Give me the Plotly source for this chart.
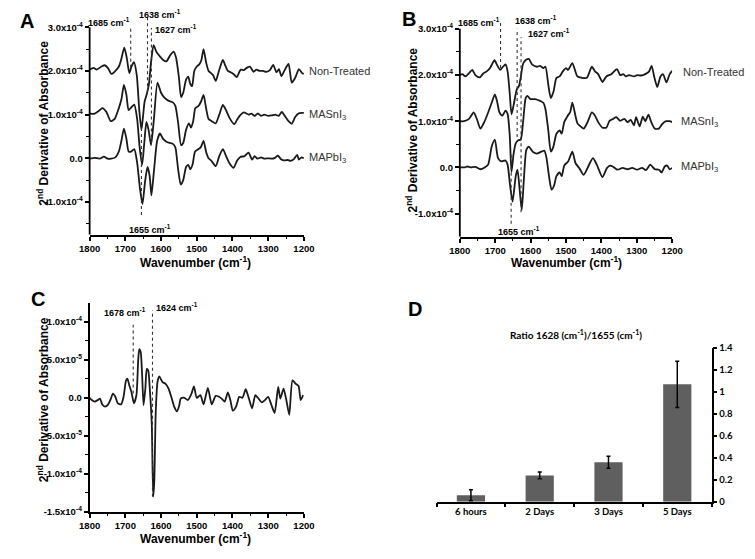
import numpy as np
import plotly.graph_objects as go

W, H = 755, 559
def px(x): return x / W
def py(y): return 1 - y / H

# ---------------- Panel A (values in 1e-4) ----------------
A_nt_wn = [1800,1789,1780,1767,1758,1749,1739,1728,1718,1712,1703,1696,1689,1683,1676,1668,1661,1655,1650,1646,1640,1634,1628,1621,1612,1603,1594,1585,1575,1565,1558,1550,1544,1538,1530,1524,1518,1513,1507,1500,1493,1487,1481,1474,1467,1460,1454,1447,1438,1427,1420,1413,1405,1397,1388,1377,1368,1360,1351,1341,1333,1324,1315,1305,1295,1286,1277,1270,1263,1255,1243,1234,1224,1214,1205,1200]
A_nt_val = [2.03,2.07,2.03,2.10,2.13,2.07,1.93,2.0,2.1,2.25,2.53,2.3,1.95,2.1,2.2,1.9,1.1,0.65,1.0,1.3,1.47,1.7,2.2,2.59,2.42,2.33,2.25,2.22,2.35,2.44,2.3,1.85,1.4,1.5,1.8,1.87,1.7,1.65,2.0,2.1,2.15,2.25,2.5,2.2,2.0,1.95,1.9,1.77,2.0,2.25,2.12,2.0,1.97,1.93,1.86,2.03,2.02,2.07,2.1,1.98,2.03,2.0,2.0,1.98,2.02,2.14,1.97,2.04,1.88,2.0,2.16,1.73,1.85,2.04,1.95,1.93]

A_ma_wn = [1800,1786,1775,1764,1753,1741,1730,1719,1711,1704,1697,1691,1685,1675,1667,1660,1653,1647,1641,1635,1628,1620,1610,1600,1590,1580,1567,1560,1552,1544,1538,1530,1522,1516,1510,1504,1495,1488,1481,1474,1467,1458,1447,1437,1427,1418,1408,1395,1386,1377,1368,1355,1347,1338,1329,1320,1311,1300,1290,1280,1271,1262,1252,1243,1234,1224,1214,1205,1200]
A_ma_val = [1.02,1.02,1.08,1.15,1.06,0.85,0.9,1.13,1.35,1.68,1.45,1.1,1.15,1.23,0.9,0.25,-0.15,0.35,0.83,0.65,0.3,0.9,1.73,1.5,1.38,1.32,1.28,1.2,0.8,0.3,0.35,0.65,0.8,0.7,0.85,1.15,1.2,1.3,1.45,1.15,0.9,0.85,0.8,1.0,1.22,1.1,0.92,0.78,0.9,1.0,1.05,1.0,1.02,0.97,1.03,0.97,1.0,0.97,0.98,1.0,0.97,1.06,0.95,0.85,0.79,0.95,1.03,1.04,1.04]

A_mp_wn = [1800,1786,1772,1760,1750,1740,1728,1718,1711,1704,1697,1691,1684,1675,1667,1659,1652,1645,1638,1632,1627,1620,1611,1603,1595,1585,1575,1567,1560,1553,1545,1538,1530,1524,1518,1512,1505,1497,1489,1481,1474,1467,1460,1447,1437,1427,1418,1408,1397,1387,1378,1366,1355,1345,1338,1330,1320,1310,1300,1290,1281,1273,1264,1255,1245,1238,1228,1219,1214,1207,1200]
A_mp_val = [-0.01,0.01,-0.01,0.04,-0.01,-0.01,0.02,0.16,0.4,0.68,0.45,0.16,0.15,0.21,-0.1,-0.7,-1.05,-0.55,-0.2,-0.4,-0.85,-0.3,0.4,0.57,0.45,0.38,0.35,0.33,0.25,-0.2,-0.6,-0.5,-0.2,-0.15,-0.25,-0.15,0.15,0.2,0.25,0.4,0.15,0.0,-0.05,-0.18,0.05,0.21,0.05,-0.12,-0.22,-0.05,0.03,0.05,0.13,-0.03,0.05,-0.01,0.02,-0.01,0.0,-0.01,0.01,0.06,-0.02,-0.05,-0.04,-0.06,-0.02,0.08,-0.03,0.02,0.0]

# ---------------- Panel B (values in 1e-4) ----------------
B_nt_wn = [1800,1793,1784,1774,1765,1756,1744,1733,1724,1715,1702,1695,1686,1678,1671,1665,1659,1654,1648,1639,1633,1628,1621,1613,1605,1596,1582,1573,1564,1558,1550,1543,1535,1527,1518,1509,1500,1494,1482,1468,1454,1441,1427,1418,1409,1397,1386,1372,1356,1347,1338,1331,1322,1308,1299,1288,1276,1265,1258,1250,1242,1233,1226,1216,1207,1200]
B_nt_val = [2.0,2.02,1.97,2.04,2.11,2.0,1.95,2.04,2.08,2.15,2.32,2.22,2.11,2.18,2.23,2.08,1.6,1.15,1.35,1.69,1.76,1.95,2.25,2.33,2.35,2.23,2.18,2.2,2.15,2.18,1.79,1.5,1.65,1.94,1.97,2.08,2.15,2.11,2.26,1.97,1.94,1.94,2.18,2.08,2.02,1.85,1.97,2.02,2.13,2.0,2.02,1.97,2.0,1.97,2.0,1.99,2.02,2.08,2.2,1.94,1.74,1.97,2.02,1.84,2.02,2.09]

B_ma_wn = [1800,1788,1774,1761,1752,1742,1731,1720,1710,1701,1695,1688,1680,1671,1665,1659,1654,1648,1642,1635,1628,1621,1614,1609,1601,1587,1573,1564,1558,1550,1543,1536,1527,1518,1512,1505,1495,1488,1482,1468,1459,1450,1439,1427,1418,1409,1397,1386,1377,1367,1358,1347,1335,1326,1317,1308,1302,1292,1283,1276,1267,1260,1249,1238,1228,1217,1207,1200]
B_ma_val = [1.0,1.0,1.05,1.19,1.05,0.84,0.98,1.19,1.4,1.58,1.44,1.19,1.12,1.23,1.16,0.7,-0.1,0.3,0.52,0.59,0.6,1.0,1.5,1.55,1.48,1.48,1.44,1.4,1.26,0.8,0.34,0.44,0.73,0.8,0.73,0.98,1.12,1.2,1.4,0.96,0.89,0.84,0.98,1.19,1.12,0.98,0.86,0.86,1.01,1.05,1.09,1.01,1.05,0.98,1.03,0.91,1.09,0.89,1.1,1.0,1.14,1.0,0.84,0.84,0.94,1.0,1.0,0.98]

B_mp_wn = [1800,1786,1779,1770,1756,1742,1730,1720,1710,1701,1692,1683,1671,1665,1658,1651,1642,1637,1631,1625,1619,1612,1605,1594,1582,1570,1561,1555,1548,1541,1534,1527,1518,1512,1505,1494,1482,1473,1463,1450,1439,1424,1413,1397,1384,1375,1366,1354,1340,1326,1313,1299,1285,1274,1262,1249,1237,1230,1221,1214,1207,1200]
B_mp_val = [0.0,0.0,0.02,0.0,0.01,-0.04,0.0,0.06,0.45,0.6,0.2,0.13,0.15,0.06,-0.39,-0.74,-0.19,-0.05,-0.48,-0.92,-0.26,0.38,0.45,0.34,0.3,0.34,0.36,0.2,-0.19,-0.48,-0.4,-0.19,-0.11,-0.19,0.04,0.13,0.34,0.09,-0.01,-0.16,-0.01,0.2,0.06,-0.21,-0.01,0.04,0.01,-0.05,-0.01,-0.04,-0.01,-0.05,-0.01,-0.06,0.06,-0.04,-0.05,-0.11,0.02,0.04,-0.04,-0.01]

# ---------------- Panel C (values in 1e-5) ----------------
C_wn = [1800,1794,1786,1777,1771,1765,1757,1748,1741,1735,1728,1721,1712,1705,1698,1694,1689,1683,1676,1669,1664,1661,1657,1653,1649,1644,1640,1636,1631,1626,1622,1619,1615,1610,1605,1596,1588,1579,1570,1563,1556,1549,1545,1535,1525,1515,1508,1500,1490,1481,1469,1458,1447,1438,1429,1422,1413,1406,1399,1390,1381,1372,1363,1354,1345,1336,1327,1318,1309,1300,1291,1282,1272,1266,1257,1250,1241,1232,1223,1215,1209,1202]
C_val = [0.0,-0.3,-0.5,-0.3,-0.1,-0.86,-1.16,-0.86,-0.17,0.56,0.13,-0.73,-0.86,0.13,2.28,2.5,1.64,0.78,-0.73,0.34,5.0,6.4,6.0,2.93,-0.95,1.2,3.8,3.6,0.78,-3.5,-13.0,-11.0,-2.0,2.07,2.8,2.07,1.85,1.2,-0.1,-1.2,-1.8,-1.0,-0.1,0.0,-0.3,0.5,1.5,0.0,0.34,-0.86,1.3,-0.86,0.26,0.13,-0.17,-0.5,0.7,-0.3,-1.7,-1.16,0.13,0.0,1.12,-0.1,-1.38,0.34,-0.1,-0.6,-0.3,0.13,-0.95,-2.0,1.42,-0.1,1.2,-0.1,-2.24,2.28,1.85,1.55,-0.3,0.34]

# ---------------- Panel D ----------------
D_cats = ["6 hours", "2 Days", "3 Days", "5 Days"]
D_vals = [0.06, 0.24, 0.36, 1.07]
D_errs = [0.05, 0.03, 0.055, 0.21]

# peak marker wavenumbers
A_peaks = [1685, 1638, 1627, 1655]
B_peaks = [1685, 1638, 1627, 1655]
C_peaks = [1678, 1624]

x_ticks = [1800, 1700, 1600, 1500, 1400, 1300, 1200]
AB_yticks = [-1e-4, 0, 1e-4, 2e-4, 3e-4]
AB_yticktext = ["-1.0x10<sup>-4</sup>", "0.0", "1.0x10<sup>-4</sup>", "2.0x10<sup>-4</sup>", "3.0x10<sup>-4</sup>"]
C_yticks = [-1.5e-4, -1e-4, -5e-5, 0, 5e-5, 1e-4]
C_yticktext = ["-1.5x10<sup>-4</sup>", "-1.0x10<sup>-4</sup>", "-5.0x10<sup>-5</sup>", "0.0", "5.0x10<sup>-5</sup>", "1.0x10<sup>-4</sup>"]
D_yticks = [0, 0.2, 0.4, 0.6, 0.8, 1.0, 1.2, 1.4]
D_yticktext = ["0", "0.2", "0.4", "0.6", "0.8", "1", "1.2", "1.4"]

FONT = "Arial, Liberation Sans, sans-serif"
DFONT = "Lato, Arial, sans-serif"
LINEC = "#1a1a1a"

fig = go.Figure()

def curve(wn, vals, scale, xa, ya):
    fig.add_trace(go.Scatter(
        x=wn, y=np.array(vals) * scale, mode="lines",
        line=dict(color=LINEC, width=1.8, shape="spline", smoothing=0.6),
        xaxis=xa, yaxis=ya, showlegend=False, hoverinfo="skip"))

curve(A_nt_wn, A_nt_val, 1e-4, "x", "y")
curve(A_ma_wn, A_ma_val, 1e-4, "x", "y")
curve(A_mp_wn, A_mp_val, 1e-4, "x", "y")
curve(B_nt_wn, B_nt_val, 1e-4, "x2", "y2")
curve(B_ma_wn, B_ma_val, 1e-4, "x2", "y2")
curve(B_mp_wn, B_mp_val, 1e-4, "x2", "y2")
curve(C_wn, C_val, 1e-5, "x3", "y3")

fig.add_trace(go.Bar(
    x=D_cats, y=D_vals, width=0.41, marker=dict(color="#5f5f5f", line=dict(width=0)),
    error_y=dict(type="data", array=D_errs, color="black", thickness=1.5, width=2),
    xaxis="x4", yaxis="y4", showlegend=False, hoverinfo="skip"))

tickfont = dict(family=FONT, size=9.5, color="black", weight=700)

def xax(dom, anchor):
    return dict(domain=dom, anchor=anchor, range=[1800, 1200], tickvals=x_ticks,
                showline=True, linecolor="black", linewidth=1.8, ticks="outside",
                ticklen=4, tickwidth=1.5, tickcolor="black", tickfont=tickfont,
                minor=dict(ticks="outside", ticklen=2.5, tickwidth=1.2, dtick=50, tick0=1800, tickcolor="black"),
                showgrid=False, zeroline=False)

def yax(dom, anchor, rng, tv, tt, minor_vals, showline):
    return dict(domain=dom, anchor=anchor, range=rng, tickmode="array", tickvals=tv, ticktext=tt,
                showline=showline, linecolor="black", linewidth=1.8, ticks="outside",
                ticklen=4, tickwidth=1.5, tickcolor="black", tickfont=dict(family=FONT, size=9.5, color="black", weight=700),
                minor=dict(ticks="outside", ticklen=2.5, tickwidth=1.2, tickmode="array", tickvals=minor_vals, tickcolor="black"),
                showgrid=False, zeroline=False)

A_dom_x = [px(81), px(301.7)]
B_dom_x = [px(462.3), px(681)]

fig.update_layout(
    width=W, height=H, margin=dict(l=0, r=0, t=0, b=0),
    paper_bgcolor="white", plot_bgcolor="white",
    xaxis=xax(A_dom_x, "y"),
    yaxis=yax([py(233.3), py(8.3)], "x", [-1.75e-4, 3.3e-4], AB_yticks, AB_yticktext,
              [-1.5e-4, -0.5e-4, 0.5e-4, 1.5e-4, 2.5e-4], False),
    xaxis2=xax(B_dom_x, "y2"),
    yaxis2=yax([py(235.3), py(9.2)], "x2", [-1.5e-4, 3.3e-4], AB_yticks, AB_yticktext,
               [-0.5e-4, 0.5e-4, 1.5e-4, 2.5e-4], False),
    xaxis3=xax(A_dom_x, "y3"),
    yaxis3=yax([py(516), py(302.7)], "x3", [-1.5e-4, 1.25e-4], C_yticks, C_yticktext,
               [-1.25e-4, -0.75e-4, -0.25e-4, 0.25e-4, 0.75e-4], True),
    xaxis4=dict(domain=[px(438.3), px(721.7)], anchor="y4", type="category", range=[-0.5, 3.5],
                tickson="boundaries", ticks="outside", ticklen=4, tickwidth=1.5, tickcolor="black",
                showline=True, linecolor="black", linewidth=1.5, showgrid=False, zeroline=False,
                tickfont=dict(family=DFONT, size=9.5, color="black", weight=700)),
    yaxis4=dict(domain=[py(505.7), py(349)], anchor="x4", side="right", range=[0, 1.4],
                tickmode="array", tickvals=D_yticks, ticktext=D_yticktext,
                showline=True, linecolor="black", linewidth=1.5, ticks="outside", ticklen=4,
                tickwidth=1.5, tickcolor="black", showgrid=False, zeroline=False,
                tickfont=dict(family=DFONT, size=9.5, color="black", weight=700)),
)

shapes = []
# y axis lines for A and B ending at the top tick
shapes.append(dict(type="line", xref="x domain", yref="y", x0=0, x1=0, y0=-1.75e-4, y1=3.0e-4,
                   line=dict(color="black", width=1.8)))
shapes.append(dict(type="line", xref="x2 domain", yref="y2", x0=0, x1=0, y0=-1.5e-4, y1=3.0e-4,
                   line=dict(color="black", width=1.8)))

dot = dict(color="#333333", width=1.1, dash="dot")
A_ext = [(2.07e-4, 3.0e-4), (1.51e-4, 3.22e-4), (0.34e-4, 2.98e-4), (-1.3e-4, 0.87e-4)]
for wn, (y0, y1) in zip(A_peaks, A_ext):
    shapes.append(dict(type="line", xref="x", yref="y", x0=wn, x1=wn, y0=y0, y1=y1, line=dot))
B_ext = [(2.15e-4, 3.18e-4), (0.66e-4, 3.0e-4), (-0.97e-4, 2.82e-4), (-1.22e-4, 0.34e-4)]
for wn, (y0, y1) in zip(B_peaks, B_ext):
    shapes.append(dict(type="line", xref="x2", yref="y2", x0=wn, x1=wn, y0=y0, y1=y1, line=dot))
C_ext = [(0.56e-5, 9.6e-5), (-13.0e-5, 11.5e-5)]
for wn, (y0, y1) in zip(C_peaks, C_ext):
    shapes.append(dict(type="line", xref="x3", yref="y3", x0=wn, x1=wn, y0=y0, y1=y1, line=dot))
fig.update_layout(shapes=shapes)

ann = []
pk_font = dict(family=FONT, size=9, color="black", weight=700)
def pk(text_wn, xr, yr, y, xanchor, xshift):
    ann.append(dict(text=f"{text_wn} cm<sup>-1</sup>", x=text_wn, y=y, xref=xr, yref=yr,
                    xanchor=xanchor, yanchor="middle", xshift=xshift, showarrow=False, font=pk_font))

pk(A_peaks[0], "x", "y", 3.11e-4, "right", 1)
pk(A_peaks[1], "x", "y", 3.3e-4, "center", 13)
pk(A_peaks[2], "x", "y", 2.97e-4, "left", 2)
pk(A_peaks[3], "x", "y", -1.63e-4, "center", 9)
pk(B_peaks[0], "x2", "y2", 3.14e-4, "right", 1)
pk(B_peaks[1], "x2", "y2", 3.2e-4, "left", -4)
pk(B_peaks[2], "x2", "y2", 2.9e-4, "left", 5)
pk(B_peaks[3], "x2", "y2", -1.38e-4, "center", 8)
pk(C_peaks[0], "x3", "y3", 11.3e-5, "center", -8)
pk(C_peaks[1], "x3", "y3", 12.0e-5, "left", 2)

lab_font = dict(family=FONT, size=11, color="#333333")
def lab(text, xr, yr, y, xshift):
    ann.append(dict(text=text, x=1200, y=y, xref=xr, yref=yr, xanchor="left", yanchor="middle",
                    xshift=xshift, showarrow=False, font=lab_font))
lab("Non-Treated", "x", "y", 2.0e-4, 3)
lab("MASnI<sub>3</sub>", "x", "y", 1.0e-4, 3)
lab("MAPbI<sub>3</sub>", "x", "y", 0.0, 3)
lab("Non-Treated", "x2", "y2", 2.07e-4, 9)
lab("MASnI<sub>3</sub>", "x2", "y2", 0.98e-4, 7)
lab("MAPbI<sub>3</sub>", "x2", "y2", 0.0, 7)

title_font = dict(family=FONT, size=12, color="black", weight=700)
ytitle = "2<sup>nd</sup> Derivative of Absorbance"
xtitle = "Wavenumber (cm<sup>-1</sup>)"
for (x, y) in [(33, 120), (413, 126), (33, 402)]:
    ann.append(dict(text=ytitle, x=px(x), y=py(y), xref="paper", yref="paper", textangle=-90,
                    xanchor="center", yanchor="middle", showarrow=False, font=title_font))
for (x, y) in [(190, 261), (572, 261), (190, 542.5)]:
    ann.append(dict(text=xtitle, x=px(x), y=py(y), xref="paper", yref="paper",
                    xanchor="center", yanchor="middle", showarrow=False, font=title_font))

ann.append(dict(text="Ratio 1628 (cm<sup>-1</sup>)/1655 (cm<sup>-1</sup>)", x=px(582), y=py(335),
                xref="paper", yref="paper", xanchor="center", yanchor="middle", showarrow=False,
                font=dict(family=DFONT, size=10, color="black", weight=700)))

letter_font = dict(family=FONT, size=20, color="black", weight=700)
for t, (x, y) in zip(["A", "B", "C", "D"], [(16, 15), (410, 13), (28, 299), (416, 309)]):
    ann.append(dict(text=t, x=px(x), y=py(y), xref="paper", yref="paper", xanchor="center",
                    yanchor="middle", showarrow=False, font=letter_font))

fig.update_layout(annotations=ann)
fig.write_html("out.html", config={"displayModeBar": False},
               post_script="document.body.style.margin='0';document.body.style.overflow='hidden';")
